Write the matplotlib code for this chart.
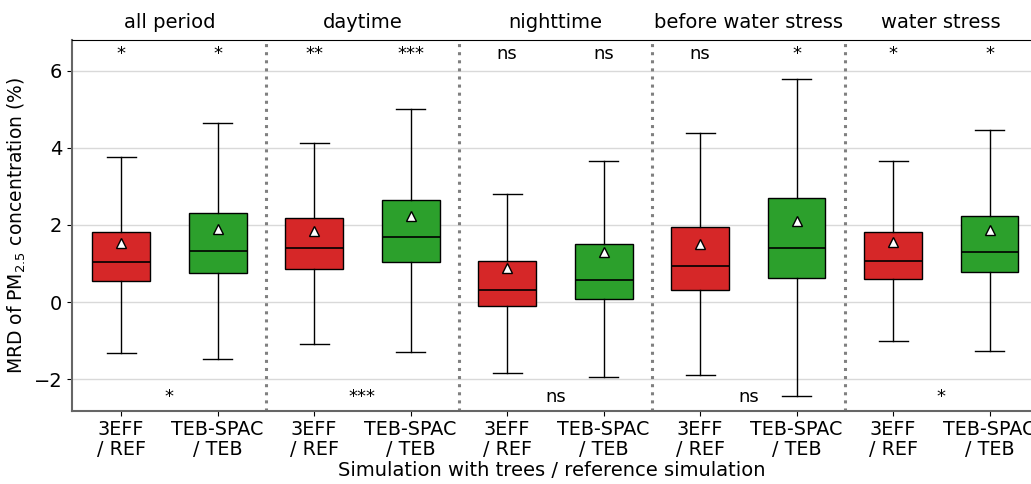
import matplotlib
matplotlib.use("Agg")
import matplotlib.pyplot as plt

groups = ["all period", "daytime", "nighttime", "before water stress", "water stress"]
tick_labels = ["3EFF\n/ REF", "TEB-SPAC\n/ TEB"] * 5
whislo = [-1.32, -1.48, -1.09, -1.30, -1.84, -1.94, -1.89, -2.44, -1.01, -1.27]
q1     = [0.54, 0.75, 0.85, 1.04, -0.10, 0.08, 0.31, 0.62, 0.60, 0.78]
med    = [1.04, 1.32, 1.40, 1.68, 0.31, 0.57, 0.93, 1.40, 1.06, 1.30]
q3     = [1.81, 2.31, 2.18, 2.64, 1.06, 1.50, 1.94, 2.69, 1.81, 2.23]
whishi = [3.76, 4.64, 4.12, 5.00, 2.80, 3.65, 4.38, 5.78, 3.65, 4.46]
means  = [1.53, 1.89, 1.84, 2.23, 0.88, 1.30, 1.50, 2.10, 1.55, 1.87]
top_sig = ["*", "*", "**", "***", "ns", "ns", "ns", "*", "*", "*"]
bottom_sig = ["*", "***", "ns", "ns", "*"]
colors = ["#d62728", "#2ca02c"] * 5

fig = plt.figure(figsize=(10.31, 4.84), dpi=100)
ax = fig.add_axes([0.0698, 0.151, 0.9302, 0.766])

stats = []
for i in range(10):
    stats.append(dict(whislo=whislo[i], q1=q1[i], med=med[i], q3=q3[i],
                      whishi=whishi[i], mean=means[i], fliers=[]))
pos = list(range(10))
bp = ax.bxp(stats, positions=pos, widths=0.6, patch_artist=True, showmeans=True,
            showfliers=False,
            medianprops=dict(color="black", linewidth=1.2),
            meanprops=dict(marker="^", markerfacecolor="white", markeredgecolor="black",
                           markersize=6.5),
            whiskerprops=dict(color="black", linewidth=1),
            capprops=dict(color="black", linewidth=1),
            boxprops=dict(edgecolor="black", linewidth=1))
for patch, c in zip(bp["boxes"], colors):
    patch.set_facecolor(c)

ax.set_xlim(-0.51, 9.43)
ax.set_ylim(-2.82, 6.79)
ax.set_yticks([-2, 0, 2, 4, 6])
ax.set_yticklabels(["\u22122", "0", "2", "4", "6"])
ax.set_xticks(pos)
ax.set_xticklabels(tick_labels, linespacing=1.05)
ax.tick_params(axis="y", labelsize=14)
ax.tick_params(axis="x", labelsize=13.8, pad=3)
ax.yaxis.grid(True, color="#d9d9d9", linewidth=1)
ax.set_axisbelow(True)

for xd in [1.5, 3.5, 5.5, 7.5]:
    ax.axvline(xd, color="gray", linestyle=":", linewidth=2.2)

for i, s in enumerate(top_sig):
    ax.text(pos[i], 6.42, s, ha="center", va="center", fontsize=13)
for g, s in enumerate(bottom_sig):
    ax.text(2 * g + 0.5, -2.46, s, ha="center", va="center", fontsize=13)
for g, name in enumerate(groups):
    ax.text(2 * g + 0.5, 6.79 + 0.45, name, ha="center", va="center", fontsize=14,
            clip_on=False)

ax.set_ylabel("MRD of PM$_{2.5}$ concentration (%)", fontsize=13.5)
ax.set_xlabel("Simulation with trees / reference simulation", fontsize=14, labelpad=2)

for sp in ["left", "bottom"]:
    ax.spines[sp].set_color("#666666")
    ax.spines[sp].set_linewidth(1.5)
ax.spines["top"].set_color("black")
ax.spines["right"].set_visible(False)

fig.savefig("out.png", dpi=100)
